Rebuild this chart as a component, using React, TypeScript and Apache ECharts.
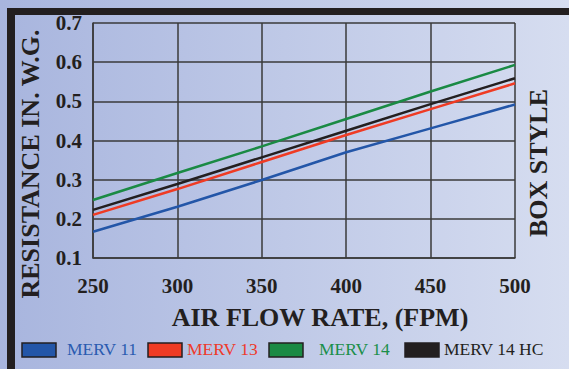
import React, { useEffect, useRef } from "react";
import * as echarts from "echarts";

const flowRates = [250, 300, 350, 400, 450, 500];
const merv11 = [0.167, 0.231, 0.299, 0.37, 0.431, 0.492];
const merv13 = [0.21, 0.276, 0.345, 0.414, 0.48, 0.546];
const merv14 = [0.248, 0.317, 0.385, 0.455, 0.525, 0.593];
const merv14hc = [0.223, 0.289, 0.357, 0.425, 0.493, 0.559];

const seriesNames = ["MERV 11", "MERV 13", "MERV 14", "MERV 14 HC"];
const seriesColors = ["#2356a8", "#ef3b24", "#1a8a44", "#231f20"];
const textColors = ["#2a5bb0", "#ee3a2b", "#1b8f4a", "#231f20"];

const serif = "'Liberation Serif', 'DejaVu Serif', serif";

export default function App() {
  const ref = useRef<HTMLDivElement>(null);
  useEffect(() => {
    if (!ref.current) return;
    const chart = echarts.init(ref.current, undefined, { renderer: "svg" });
    const data = [merv11, merv13, merv14, merv14hc];
    const legendRectX = [22, 148, 269, 405];
    const legendTextX = [67, 187, 319, 444];
    const legendGraphics: any[] = [];
    seriesNames.forEach((n, i) => {
      legendGraphics.push({
        type: "rect",
        shape: { x: legendRectX[i], y: 343, width: 34, height: 14 },
        style: { fill: seriesColors[i], stroke: "#231f20", lineWidth: 1.5 },
      });
      legendGraphics.push({
        type: "text",
        x: legendTextX[i],
        y: 349,
        style: {
          text: n,
          fill: textColors[i],
          font: `17.5px ${serif}`,
          textVerticalAlign: "middle",
          verticalAlign: "middle",
        },
      });
    });
    chart.setOption({
      animation: false,
      backgroundColor: {
        type: "linear",
        x: 0,
        y: 0,
        x2: 1,
        y2: 0,
        colorStops: [
          { offset: 0, color: "#a8b5de" },
          { offset: 1, color: "#d6ddf0" },
        ],
      },
      grid: { left: 93, right: 54, top: 23, bottom: 111, containLabel: false },
      xAxis: {
        type: "value",
        min: 250,
        max: 500,
        interval: 50,
        axisLine: { show: true, lineStyle: { color: "#3a3a3a", width: 1.5 } },
        axisTick: { show: false },
        axisLabel: {
          margin: 17,
          color: "#231f20",
          fontFamily: serif,
          fontWeight: "bold",
          fontSize: 21,
        },
        splitLine: { show: true, lineStyle: { color: "#3a3a3a", width: 1.5 } },
      },
      yAxis: {
        type: "value",
        min: 0.1,
        max: 0.7,
        interval: 0.1,
        axisLine: { show: true, lineStyle: { color: "#3a3a3a", width: 1.5 } },
        axisTick: { show: false },
        axisLabel: {
          margin: 11,
          color: "#231f20",
          fontFamily: serif,
          fontWeight: "bold",
          fontSize: 21,
          formatter: (v: number) => v.toFixed(1),
        },
        splitLine: { show: true, lineStyle: { color: "#3a3a3a", width: 1.5 } },
      },
      series: seriesNames.map((n, i) => ({
        name: n,
        type: "line",
        data: flowRates.map((x, j) => [x, data[i][j]]),
        showSymbol: false,
        symbol: "none",
        lineStyle: { color: seriesColors[i], width: 2.5 },
        itemStyle: { color: seriesColors[i] },
        z: 3 + i,
      })),
      graphic: [
        {
          type: "rect",
          shape: { x: 7, y: 8, width: 562, height: 7 },
          style: { fill: "#231f20" },
        },
        {
          type: "rect",
          shape: { x: 7, y: 8, width: 8, height: 361 },
          style: { fill: "#231f20" },
        },
        {
          type: "text",
          x: 320,
          y: 317,
          style: {
            text: "AIR FLOW RATE, (FPM)",
            fill: "#231f20",
            font: `bold 26px ${serif}`,
            textAlign: "center",
            textVerticalAlign: "middle",
            align: "center",
            verticalAlign: "middle",
          },
        },
        {
          type: "text",
          x: 30,
          y: 164,
          rotation: Math.PI / 2,
          style: {
            text: "RESISTANCE IN. W.G.",
            fill: "#231f20",
            font: `bold 26px ${serif}`,
            textAlign: "center",
            textVerticalAlign: "middle",
            align: "center",
            verticalAlign: "middle",
          },
        },
        {
          type: "text",
          x: 538,
          y: 163,
          rotation: Math.PI / 2,
          style: {
            text: "BOX STYLE",
            fill: "#231f20",
            font: `bold 26px ${serif}`,
            textAlign: "center",
            textVerticalAlign: "middle",
            align: "center",
            verticalAlign: "middle",
          },
        },
        ...legendGraphics,
      ],
    });
    return () => chart.dispose();
  }, []);
  return (
    <div
      ref={ref}
      style={{ position: "fixed", left: 0, top: 0, width: 569, height: 369 }}
    />
  );
}
